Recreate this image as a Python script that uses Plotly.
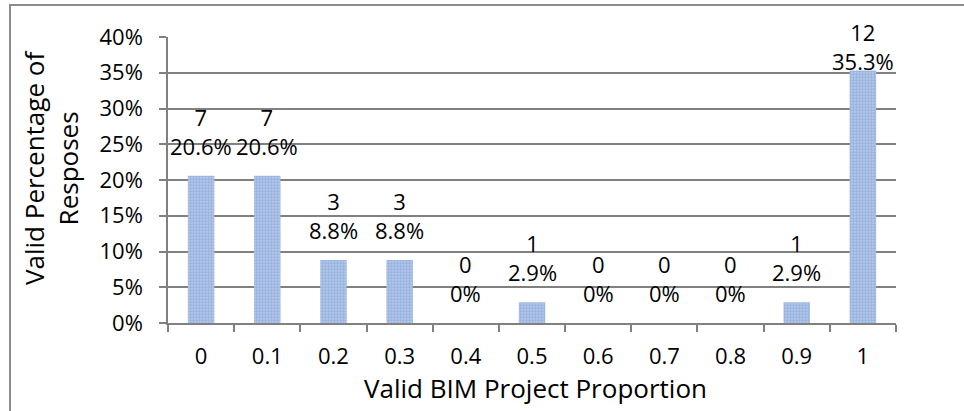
import plotly.graph_objects as go

# Survey results: share of respondents by valid BIM project proportion
categories = ["0", "0.1", "0.2", "0.3", "0.4", "0.5", "0.6", "0.7", "0.8", "0.9", "1"]
counts = [7, 7, 3, 3, 0, 1, 0, 0, 0, 1, 12]
percents = [20.6, 20.6, 8.8, 8.8, 0, 2.9, 0, 0, 0, 2.9, 35.3]
y_ticks = [0, 5, 10, 15, 20, 25, 30, 35, 40]

W, H = 964, 411
L, R, T, B = 168, 68, 37, 88
plot_h = H - T - B
y_max = 40

FONT = "Open Sans"
GRID = "#808080"

fig = go.Figure()
fig.add_trace(go.Bar(
    x=categories,
    y=percents,
    width=0.4,
    marker=dict(
        color="#b4c8e8",
        line=dict(width=0),
        pattern=dict(shape=".", fgcolor="#7498d3", bgcolor="#bfd0ec",
                     size=3, solidity=0.7),
    ),
    hoverinfo="skip",
))

# Two-line data labels (count over percentage), kept inside the chart frame
base_shift = 13
label_h = 62
top_limit = 16
for i, (n, p) in enumerate(zip(counts, percents)):
    bar_top_px = T + plot_h * (1 - p / y_max)
    shift = base_shift
    if bar_top_px - shift - label_h < top_limit:
        shift = bar_top_px - label_h - top_limit
    fig.add_annotation(
        x=i, y=p, xref="x", yref="y",
        text=f"{n}<br>{p:g}%",
        showarrow=False, yanchor="bottom", yshift=shift,
        font=dict(family=FONT, size=22, color="#000000"),
    )

# Axis titles
fig.add_annotation(
    xref="paper", yref="paper",
    x=(535 - L) / (W - L - R), y=(H - B - 388) / plot_h,
    text="Valid BIM Project Proportion", showarrow=False,
    xanchor="center", yanchor="middle",
    font=dict(family=FONT, size=26, color="#000000"),
)
fig.add_annotation(
    xref="paper", yref="paper",
    x=(51 - L) / (W - L - R), y=(H - B - 168) / plot_h,
    text="Valid Percentage of<br>Resposes", showarrow=False, textangle=-90,
    xanchor="center", yanchor="middle",
    font=dict(family=FONT, size=26, color="#000000"),
)

# Chart frame
pw, ph = W - L - R, plot_h
fig.add_shape(
    type="rect", xref="paper", yref="paper",
    x0=(10 - L) / pw, x1=(975 - L) / pw,
    y0=(H - B - 420) / ph, y1=(H - B - 5) / ph,
    line=dict(color="#8c8c8c", width=2), fillcolor="rgba(0,0,0,0)",
    layer="below",
)

fig.update_layout(
    width=W, height=H,
    margin=dict(l=L, r=R, t=T, b=B),
    paper_bgcolor="white", plot_bgcolor="white",
    showlegend=False,
    font=dict(family=FONT, size=22, color="#000000"),
    xaxis=dict(
        type="category", tickson="boundaries",
        ticks="outside", ticklen=7, tickwidth=1.5, tickcolor=GRID,
        showline=True, linecolor=GRID, linewidth=1.5,
        showgrid=False, ticklabelstandoff=13,
        tickfont=dict(family=FONT, size=22, color="#000000"),
        range=[-0.5, len(categories) - 0.5],
    ),
    yaxis=dict(
        range=[0, y_max], tickvals=y_ticks,
        ticktext=[f"{v}%" for v in y_ticks],
        ticks="outside", ticklen=7, tickwidth=1.5, tickcolor=GRID,
        showline=True, linecolor=GRID, linewidth=1.5,
        showgrid=True, gridcolor=GRID, gridwidth=1.5,
        zeroline=False, ticklabelstandoff=12,
        tickfont=dict(family=FONT, size=22, color="#000000"),
    ),
)

fig.write_html("out.html")
